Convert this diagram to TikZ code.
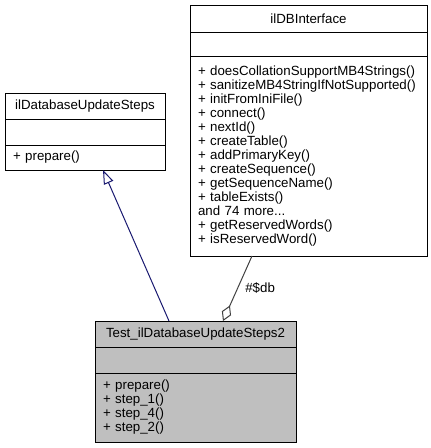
\documentclass[tikz,border=0pt]{standalone}
\usepackage{fontspec}
\setmainfont{Liberation Sans}
\usetikzlibrary{arrows.meta,positioning}
\definecolor{edgeblue}{HTML}{191970}
\definecolor{edgegray}{HTML}{404040}
\definecolor{clsgray}{HTML}{BFBFBF}

\begin{document}
\begin{tikzpicture}[
  x=1pt, y=-1pt,
  font=\fontsize{13.3}{14}\selectfont,
  part/.style={draw=black,line width=1pt,inner xsep=8pt,inner ysep=0pt,outer sep=0pt},
  ttl/.style={part,align=center},
  mem/.style={part,align=left},
  link/.style={line width=1pt},
]
\useasboundingbox (0,0) rectangle (431,448);

% ilDBInterface
\node[ttl,minimum width=237pt,minimum height=27pt] (dbT) at (308.5,18.5) {ilDBInterface};
\node[part,minimum width=237pt,minimum height=24pt,below=0pt of dbT] (dbA) {};
\node[mem,text width=221pt,minimum height=200pt,below=0pt of dbA] (dbM) {+ doesCollationSupportMB4Strings()\\+ sanitizeMB4StringIfNotSupported()\\+ initFromIniFile()\\+ connect()\\+ nextId()\\+ createTable()\\+ addPrimaryKey()\\+ createSequence()\\+ getSequenceName()\\+ tableExists()\\and 74 more...\\+ getReservedWords()\\+ isReservedWord()};

% ilDatabaseUpdateSteps
\node[ttl,minimum width=160pt,minimum height=26pt] (upT) at (85,106) {ilDatabaseUpdateSteps};
\node[part,minimum width=160pt,minimum height=26pt,below=0pt of upT] (upA) {};
\node[mem,text width=144pt,minimum height=25pt,below=0pt of upA] (upM) {+ prepare()};

% Test_ilDatabaseUpdateSteps2
\node[ttl,fill=clsgray,minimum width=201pt,minimum height=26pt] (tsT) at (195.5,334) {Test\_ilDatabaseUpdateSteps2};
\node[part,fill=clsgray,minimum width=201pt,minimum height=26pt,below=0pt of tsT] (tsA) {};
\node[mem,fill=clsgray,text width=185pt,minimum height=69pt,below=0pt of tsA] (tsM) {+ prepare()\\+ step\_1()\\+ step\_4()\\+ step\_2()};

\draw[link,edgeblue,-{Triangle[open,length=14pt,width=10pt]}] ([xshift=74pt]tsT.north west) -- ([xshift=98pt]upM.south west);
\draw[link,edgegray,-{Diamond[open,length=17pt,width=10pt]}] ([xshift=62pt]dbM.south west) -- node[pos=.5,anchor=west,xshift=4pt,text=black] (dbLbl) {\#\$db} ([xshift=128pt]tsT.north west);
\end{tikzpicture}
\end{document}
